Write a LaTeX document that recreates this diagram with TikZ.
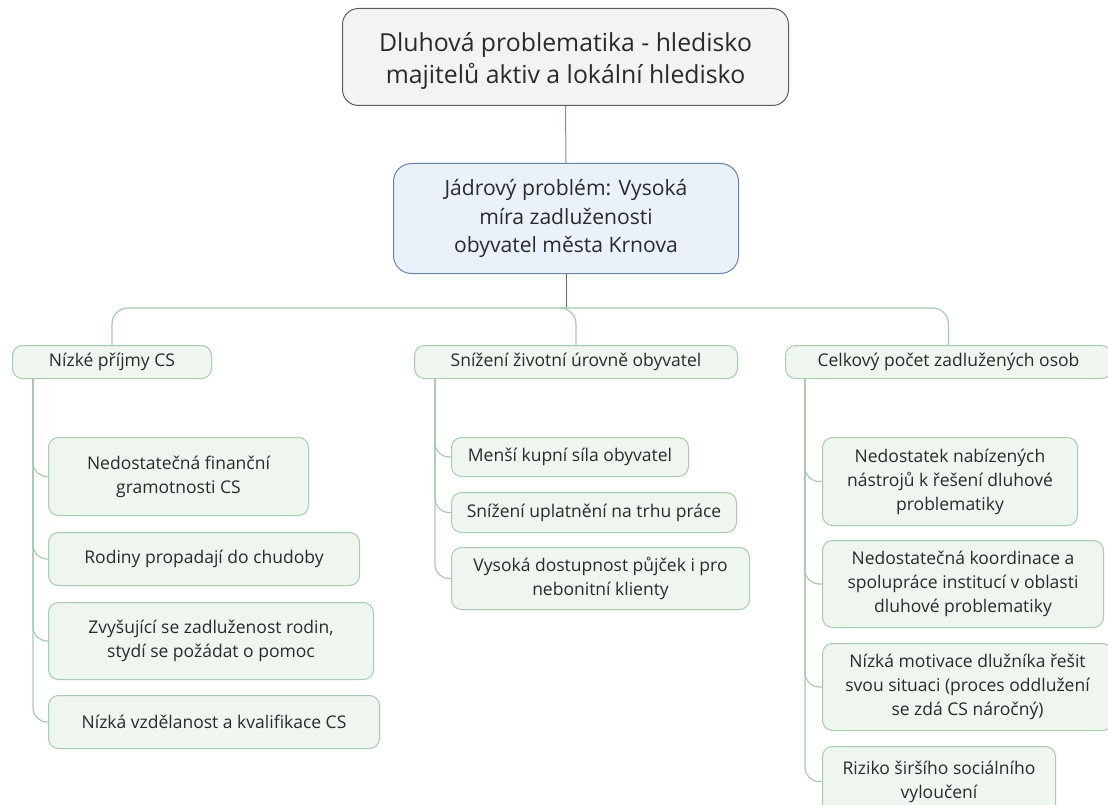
\documentclass[tikz,border=0pt]{standalone}
\usepackage{fontspec}
\setmainfont{Open Sans}
\definecolor{txtgray}{HTML}{2A2A2A}
\definecolor{rootfill}{HTML}{F3F3F3}
\definecolor{rootdraw}{HTML}{5C5C5C}
\definecolor{corefill}{HTML}{EAF1FA}
\definecolor{coredraw}{HTML}{6784A6}
\definecolor{leaffill}{HTML}{EEF6EF}
\definecolor{leafdraw}{HTML}{A6CBAD}
\definecolor{stemblue}{HTML}{6E93B5}
\definecolor{stemdark}{HTML}{4E6A80}
\tikzset{every picture/.style={line width=1pt}}

\begin{document}
\begin{tikzpicture}[x=1pt,y=1pt,yscale=-1,
  every node/.style={text=txtgray, align=center, inner sep=0pt, anchor=north west},
  rootbox/.style={draw=rootdraw, fill=rootfill, rounded corners=16, font=\fontsize{24.8}{31}\selectfont},
  corebox/.style={draw=coredraw, fill=corefill, rounded corners=18, font=\fontsize{21.1}{28.5}\selectfont},
  leafbox/.style={draw=leafdraw, fill=leaffill, rounded corners=10, font=\fontsize{17.5}{24}\selectfont},
  busline/.style={draw=leafdraw, line width=1.2pt, rounded corners=16},
  twig/.style={draw=leafdraw, line width=1.2pt, rounded corners=14}]
\useasboundingbox (0,0) rectangle (1108,805);
\clip (0,0) rectangle (1108,805);
\fill[white] (0,0) rectangle (1108,805);

% top of the map
\node (root) [rootbox, minimum width=446, minimum height=97, text depth=2pt] at (342,8) {\raisebox{-4pt}{\shortstack{Dluhová problematika - hledisko\\[3pt]majitelů aktiv a lokální hledisko}}};
\node (core) [corebox, minimum width=345, minimum height=110] at (393,163) {Jádrový problém: Vysoká\\míra zadluženosti\\obyvatel města Krnova};

% main branches
\node (n1) [leafbox, minimum width=199, minimum height=33] at (12,345) {Nízké příjmy CS};
\node (n2) [leafbox, minimum width=323, minimum height=33] at (414,345) {Snížení životní úrovně obyvatel};
\node (n3) [leafbox, minimum width=326, minimum height=33] at (785,345) {Celkový počet zadlužených osob};

% left branch
\node (c1) [leafbox, minimum width=260, minimum height=78] at (48,437) {Nedostatečná finanční\\gramotnosti CS};
\node (c2) [leafbox, minimum width=311, minimum height=53] at (48,532) {Rodiny propadají do chudoby};
\node (c3) [leafbox, minimum width=325, minimum height=77] at (48,602) {Zvyšující se zadluženost rodin,\\stydí se požádat o pomoc};
\node (c4) [leafbox, minimum width=331, minimum height=53] at (48,695) {Nízká vzdělanost a kvalifikace CS};

% middle branch
\node (m1) [leafbox, minimum width=237, minimum height=39] at (451,437) {Menší kupní síla obyvatel};
\node (m2) [leafbox, minimum width=285, minimum height=40] at (451,492) {Snížení uplatnění na trhu práce};
\node (m3) [leafbox, minimum width=298, minimum height=62] at (451,547) {Vysoká dostupnost půjček i pro\\nebonitní klienty};

% right branch
\node (r1) [leafbox, minimum width=255, minimum height=88] at (822,437) {Nedostatek nabízených\\nástrojů k řešení dluhové\\problematiky};
\node (r2) [leafbox, minimum width=281, minimum height=87] at (822,540) {Nedostatečná koordinace a\\spolupráce institucí v oblasti\\dluhové problematiky};
\node (r3) [leafbox, minimum width=290, minimum height=87] at (822,643) {Nízká motivace dlužníka řešit\\svou situaci (proces oddlužení\\se zdá CS náročný)};
\node (r4) [leafbox, minimum width=233, minimum height=70] at (822,746) {Riziko širšího sociálního\\vyloučení};

% connectors
\coordinate (bus) at (0,308);
\draw[stemblue] (root.south) -- (core.north);
\draw[stemdark] (core.south) -- (core.south |- bus);
\draw[busline] (core.south |- bus) -| (n1.north);
\draw[busline] (core.south |- bus) -| (n2.north);
\draw[busline] (core.south |- bus) -| (n3.north);
\foreach \c in {c1,c2,c3,c4}
  \draw[twig] ([xshift=21pt]n1.south west) |- (\c.west);
\foreach \c in {m1,m2,m3}
  \draw[twig] ([xshift=21pt]n2.south west) |- (\c.west);
\foreach \c in {r1,r2,r3,r4}
  \draw[twig] ([xshift=20pt]n3.south west) |- (\c.west);
\end{tikzpicture}
\end{document}
